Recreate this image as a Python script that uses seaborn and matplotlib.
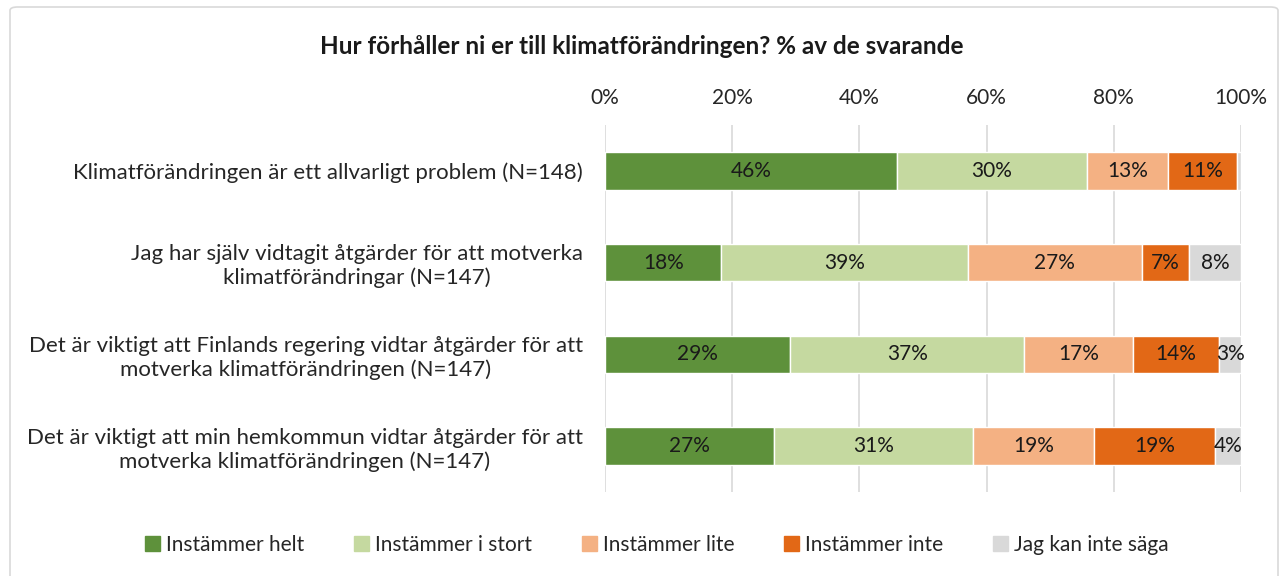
import matplotlib
matplotlib.use("Agg")
import matplotlib.pyplot as plt
import matplotlib.patches as mpatches
import seaborn as sns
import pandas as pd
import numpy as np

categories = [
    "Klimatförändringen är ett allvarligt problem (N=148)",
    "Jag har själv vidtagit åtgärder för att motverka\nklimatförändringar (N=147)",
    "Det är viktigt att Finlands regering vidtar åtgärder för att\nmotverka klimatförändringen (N=147)",
    "Det är viktigt att min hemkommun vidtar åtgärder för att\nmotverka klimatförändringen (N=147)",
]
series_names = ["Instämmer helt", "Instämmer i stort", "Instämmer lite", "Instämmer inte", "Jag kan inte säga"]
helt = [45.9, 18.3, 29.1, 26.6]
stort = [29.9, 38.7, 36.8, 31.3]
lite = [12.8, 27.4, 17.1, 19.0]
inte = [10.8, 7.4, 13.6, 19.0]
vet_ej = [0.6, 8.2, 3.4, 4.1]
colors = ["#5E913B", "#C5D9A0", "#F4B183", "#E26816", "#D9D9D9"]
xticks = [0, 20, 40, 60, 80, 100]
title = "Hur förhåller ni er till klimatförändringen? % av de svarande"

series = [helt, stort, lite, inte, vet_ej]

sns.set_style("white")
plt.rcParams["font.family"] = ["Lato", "DejaVu Sans"]

fig = plt.figure(figsize=(12.84, 5.76), dpi=100)
ax = fig.add_axes([605 / 1284, 1 - 492 / 576, 636 / 1284, 367 / 576])

left = np.zeros(len(categories))
for name, vals, col in zip(series_names, series, colors):
    df = pd.DataFrame({"cat": categories, "val": vals})
    sns.barplot(data=df, x="val", y="cat", color=col, width=0.41, left=left,
                ax=ax, saturation=1, label=name, zorder=3)
    cont = ax.containers[-1]
    labels = [f"{int(v + 0.5)}%" if v >= 2 else "" for v in vals]
    ax.bar_label(cont, labels=labels, label_type="center", fontsize=15, color="#1a1a1a")
    left = left + np.array(vals)

ax.set_xlim(0, 100)
ax.set_ylim(3.5, -0.5)
ax.set_xticks(xticks)
ax.set_xticklabels([f"{t}%" for t in xticks])
ax.xaxis.tick_top()
ax.tick_params(axis="x", length=0, pad=12, labelsize=15, colors="#262626")
ax.tick_params(axis="y", length=0, pad=16, labelsize=16, colors="#262626")
for t in ax.get_yticklabels():
    t.set_multialignment("center")
ax.grid(axis="x", color="#D9D9D9", linewidth=1.2, zorder=0)
ax.grid(axis="y", visible=False)
ax.set_xlabel("")
ax.set_ylabel("")
for s in ax.spines.values():
    s.set_visible(False)

if ax.get_legend() is not None:
    ax.get_legend().remove()
handles = [mpatches.Patch(color=c, label=n) for n, c in zip(series_names, colors)]
fig.legend(handles=handles, loc="center", bbox_to_anchor=(657 / 1284, 1 - 545 / 576),
           ncol=5, frameon=False, fontsize=15, handlelength=0.7, handleheight=0.7,
           handletextpad=0.3, columnspacing=2.4, labelcolor="#262626")

fig.text(0.5, 1 - 46 / 576, title, ha="center", va="center", fontsize=17.5,
         fontweight="bold", color="#1a1a1a")

border = mpatches.FancyBboxPatch((10 / 1284, -0.05), 1268 / 1284, 1 - 7 / 576 + 0.05,
                                 boxstyle="round,pad=0,rounding_size=0.006",
                                 transform=fig.transFigure, fill=False,
                                 edgecolor="#D9D9D9", linewidth=1.2)
fig.patches.append(border)

fig.savefig("out.png", dpi=100)
